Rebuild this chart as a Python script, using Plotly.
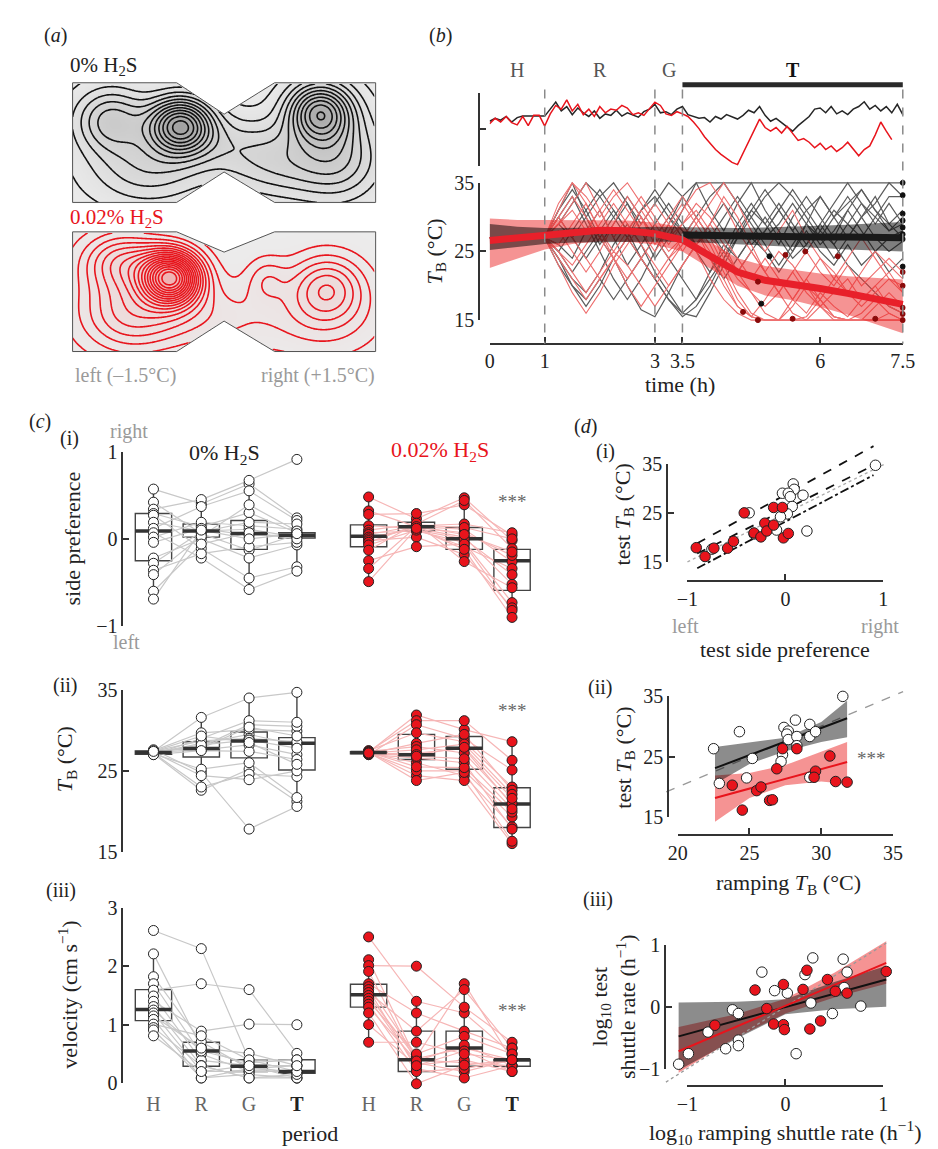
import numpy as np
import plotly.graph_objects as go

W, H = 938, 1149
SERIF = "'Liberation Serif', 'Times New Roman', Times, 'DejaVu Serif', serif"
RED = "#e8141c"
AXC = "#333333"

# ======================= DATA =======================
# (a) arena outline in arena units (x: left -1.5 .. right +1.5)
ARENA_X = [-1.5, -0.47, 0.0, 0.5, 1.5, 1.5, 0.5, 0.0, -0.47, -1.5, -1.5]
ARENA_TOP_Y = [0.59, 0.59, 0.28, 0.59, 0.59, -0.59, -0.59, -0.29, -0.59, -0.59, 0.59]
ARENA_BOT_Y = [0.59, 0.59, 0.39, 0.59, 0.59, -0.59, -0.59, -0.29, -0.59, -0.59, 0.59]
A0_CX = [-0.43, -1.12, 0.95, 1.15, -0.75, 0.55, 0.05]
A0_CY = [0.17, 0.22, 0.30, -0.15, -0.25, -0.20, 0.0]
A0_SX = [0.22, 0.25, 0.22, 0.30, 0.40, 0.40, 0.35]
A0_SY = [0.19, 0.22, 0.20, 0.30, 0.25, 0.25, 0.20]
A0_W = [1.0, 0.45, 0.85, 0.35, 0.30, 0.30, 0.15]
A2_CX = [-0.52, -1.0, -0.95, 1.02, 0.42, 1.0, -0.2]
A2_CY = [0.14, 0.30, -0.20, 0.05, 0.12, -0.25, -0.25]
A2_SX = [0.20, 0.28, 0.35, 0.25, 0.14, 0.40, 0.50]
A2_SY = [0.18, 0.20, 0.28, 0.22, 0.16, 0.28, 0.25]
A2_W = [1.4, 0.45, 0.40, 0.40, 0.18, 0.20, 0.20]

# (b) periods
PERIOD_NAMES = ["H", "R", "G", "T"]
PERIOD_EDGES = [0, 1, 3, 3.5, 7.5]
B_XTICKS = [0, 1, 3, 3.5, 6, 7.5]
B_XTICKTEXT = ["0", "1", "3", "3.5", "6", "7.5"]
# (b) upper example traces, sampled every 0.1 h from t = 0
B_TOP_BLACK = [0.22, 0.30, 0.25, 0.35, 0.20, 0.32, 0.36, 0.36, 0.36, 0.36,
               0.36, 0.55, 0.74, 0.50, 0.62, 0.40, 0.58, 0.45, 0.35, 0.50,
               0.30, 0.42, 0.38, 0.52, 0.36, 0.45, 0.40, 0.33, 0.48, 0.55,
               0.68, 0.45, 0.48, 0.40, 0.55, 0.62, 0.40, 0.36, 0.30, 0.32,
               0.20, 0.35, 0.28, 0.40, 0.33, 0.28, 0.38, 0.52, 0.45, 0.62,
               0.38, 0.22, 0.30, 0.18, 0.08, -0.05, 0.10, 0.22, 0.35, 0.55,
               0.58, 0.45, 0.62, 0.42, 0.50, 0.40, 0.55, 0.62, 0.75, 0.55,
               0.65, 0.50, 0.62, 0.45, 0.68, 0.40]
B_TOP_RED = [0.15, 0.30, 0.20, 0.35, 0.18, 0.12, 0.35, 0.10, 0.38, 0.38,
             0.09, 0.42, 0.65, 0.55, 0.80, 0.50, 0.68, 0.40, 0.55, 0.35,
             0.62, 0.45, 0.55, 0.52, 0.65, 0.58, 0.40, 0.45, 0.38, 0.55,
             0.74, 0.65, 0.42, 0.38, 0.48, 0.42, 0.35, 0.20, 0.02, -0.20,
             -0.38, -0.55, -0.68, -0.80, -0.90, -0.96, -0.65, -0.35, 0.0, 0.28,
             0.05, -0.05, 0.05, -0.10, 0.08, -0.12, -0.30, -0.25, -0.35, -0.50,
             -0.38, -0.55, -0.45, -0.60, -0.50, -0.35, -0.55, -0.72, -0.55, -0.45,
             -0.15, 0.20, -0.05, -0.28]
B_TOP_STEP = 0.1
# (b) individual body-temperature traces: 27 degC during H, then every 0.25 h from t = 1
B_IND_START = 1.0
B_IND_STEP = 0.25
B_GRAY = [
    [27, 31, 35, 30, 26, 29, 32, 28, 24, 27, 31, 35, 35, 35, 35, 35, 35, 35, 35, 35, 35, 35, 35, 35, 35, 35, 35],
    [27, 24, 21, 19, 22, 26, 29, 26, 22, 19, 16, 15.5, 19, 23, 27, 31, 29, 26, 30, 33, 30, 27, 31, 34, 31, 28, 30],
    [27, 30, 33, 29, 25, 21, 18, 21, 25, 29, 33, 35, 31, 28, 32, 35, 31, 28, 25, 29, 33, 30, 27, 30, 33, 29, 27],
    [27, 25, 22, 25, 28, 31, 28, 24, 21, 18, 16, 18, 22, 26, 24, 27, 30, 27, 24, 26, 29, 26, 23, 21, 19, 17, 16],
    [27, 29, 27, 24, 27, 30, 33, 30, 27, 30, 28, 26, 29, 32, 29, 26, 28, 31, 34, 31, 28, 31, 29, 32, 30, 33, 33],
    [27, 23, 20, 17, 20, 24, 20, 16.5, 15.5, 19, 23, 26, 28, 25, 22, 25, 28, 31, 28, 25, 28, 26, 29, 27, 30, 28, 29],
    [27, 31, 34, 31, 27, 24, 27, 31, 34, 31, 28, 25, 22, 25, 29, 32, 29, 32, 29, 26, 29, 32, 35, 32, 29, 32, 29],
    [27, 26, 24, 28, 31, 27, 23, 26, 29, 32, 29, 26, 24, 21, 24, 27, 25, 22, 25, 28, 25, 23, 26, 23, 25, 22, 24],
    [27, 29, 32, 35, 33, 30, 27, 24, 21, 18, 15.5, 17, 20, 24, 28, 31, 34, 31, 28, 31, 33, 30, 32, 34, 31, 29, 31],
    [27, 25, 28, 31, 34, 31, 28, 31, 33, 30, 27, 30, 33, 35, 32, 29, 26, 23, 26, 29, 27, 24, 27, 30, 27, 25, 26.5],
    [27, 24, 20, 18, 21, 18, 21, 24, 27, 24, 21, 18, 21, 24, 27, 30, 27, 29, 32, 29, 26, 28, 31, 28, 25, 27, 28],
    [27, 30, 27, 30, 33, 35, 32, 29, 32, 35, 33, 30, 27, 30, 33, 30, 33, 35, 33, 30, 27, 30, 33, 30, 32, 35, 33],
]
B_REDS = [
    [27, 31, 35, 32, 28, 25, 28, 31, 28, 25, 27, 25, 21, 18, 16, 15, 15, 15, 15, 15, 15, 15, 15, 15, 15, 15, 15],
    [27, 24, 21, 18, 21, 24, 27, 30, 27, 24, 26, 28, 24, 20, 17, 15.5, 18, 21, 18, 16, 19, 17, 15.5, 18, 20, 17, 16],
    [27, 29, 32, 35, 31, 27, 30, 33, 30, 27, 29, 31, 28, 24, 21, 19, 17, 19, 22, 19, 17, 19, 21, 18, 20, 22, 19],
    [27, 25, 23, 26, 29, 32, 29, 26, 23, 20, 23, 26, 29, 33, 30, 26, 22, 19, 16, 15, 15, 15, 15, 16, 18, 16, 15],
    [27, 30, 33, 30, 27, 24, 21, 24, 27, 30, 33, 30, 27, 25, 22, 25, 22, 19, 22, 25, 22, 20, 23, 20, 22, 24, 22],
    [27, 26, 29, 32, 28, 24, 20, 17, 20, 23, 26, 29, 26, 22, 18, 15.5, 15, 15, 17, 20, 17, 15.5, 15, 15, 17, 19, 17],
    [27, 28, 25, 22, 25, 29, 33, 30, 26, 29, 32, 29, 32, 35, 32, 28, 25, 28, 31, 27, 24, 21, 24, 27, 24, 21, 19],
    [27, 23, 19, 16, 19, 23, 26, 29, 32, 29, 25, 28, 25, 21, 17, 15.5, 15, 15, 15, 15.5, 18, 15.5, 15, 15, 15, 15, 15],
    [27, 30, 27, 24, 21, 24, 27, 24, 21, 24, 27, 30, 27, 23, 19, 16, 15, 15, 18, 21, 18, 15.5, 15, 15, 15, 15, 15],
    [27, 32, 35, 33, 30, 33, 35, 32, 29, 26, 29, 32, 30, 27, 24, 21, 24, 21, 18, 21, 24, 22, 19, 22, 25, 23, 21],
    [27, 25, 22, 19, 22, 25, 23, 20, 17, 20, 23, 26, 29, 26, 22, 19, 16, 15, 15, 15, 17, 15, 15, 15, 15, 16, 15],
    [27, 29, 31, 28, 31, 34, 31, 28, 25, 28, 31, 34, 35, 32, 28, 25, 22, 25, 23, 20, 18, 21, 19, 17, 19, 21, 20],
]
B_H_TEMP = 27
# (b) group means and confidence bands
B_MEAN_T = [0, 0.5, 1, 1.5, 2, 2.5, 3, 3.5, 4, 4.5, 5, 5.5, 6, 6.5, 7, 7.5]
B_BLACK_MEAN = [27.2, 27.2, 27.3, 27.4, 27.5, 27.5, 27.5, 27.4, 27.3, 27.2, 27.2, 27.1, 27.1, 27.1, 27.0, 27.0]
B_BLACK_LO = [25.2, 25.7, 26.1, 26.3, 26.4, 26.4, 26.4, 26.4, 26.3, 26.1, 25.9, 25.7, 25.5, 25.3, 25.1, 25.0]
B_BLACK_HI = [29.0, 28.6, 28.4, 28.4, 28.5, 28.5, 28.6, 28.5, 28.4, 28.4, 28.5, 28.6, 28.7, 28.9, 29.1, 29.3]
B_RED_MEAN = [26.6, 27.0, 27.5, 27.9, 28.1, 28.0, 27.6, 26.7, 24.3, 22.0, 20.8, 20.3, 19.6, 18.9, 18.2, 17.3]
B_RED_LO = [22.6, 24.0, 25.3, 26.1, 26.5, 26.4, 26.0, 25.0, 22.5, 20.0, 18.6, 17.9, 16.9, 15.8, 14.5, 13.1]
B_RED_HI = [29.8, 29.6, 29.6, 29.6, 29.6, 29.5, 29.2, 28.5, 26.4, 24.0, 22.9, 22.3, 21.8, 21.4, 21.1, 20.9]
# (b) end-of-tracking points
B_DOT_BLACK_T = [7.5, 7.5, 7.5, 7.5, 7.5, 7.5, 7.5, 7.5, 5.08, 4.93]
B_DOT_BLACK_Y = [35.0, 33.2, 30.5, 29.5, 28.5, 27.5, 26.8, 22.8, 24.3, 17.4]
B_DOT_RED_T = [7.5, 7.5, 7.5, 7.5, 7.5, 5.37, 5.73, 6.32, 4.6, 4.87, 5.5, 7.0, 4.87]
B_DOT_RED_Y = [22.0, 20.0, 16.8, 15.9, 15.0, 24.5, 25.0, 24.3, 16.2, 15.0, 15.2, 15.2, 20.6]

# (c) per-individual values, periods H, R, G, T
SP0 = [[0.57, 0.42, 0.34, 0.29, 0.27, 0.19, 0.12, 0.07, 0.02, -0.04, -0.22, -0.28, -0.36, -0.41, -0.60, -0.69],
       [0.40, 0.06, 0.45, 0.14, -0.11, 0.09, 0.37, -0.22, 0.19, 0.12, 0.0, 0.08, -0.17, 0.03, -0.06, 0.10],
       [0.63, -0.13, 0.67, 0.30, -0.45, 0.11, 0.55, -0.58, 0.15, 0.04, -0.22, 0.19, -0.09, 0.39, 0.07, 0.0],
       [0.24, 0.05, 0.91, 0.07, -0.32, 0.02, 0.21, -0.37, 0.11, 0.04, -0.07, 0.17, -0.04, 0.09, 0.0, 0.06]]
SP2 = [[0.48, 0.32, 0.28, 0.15, 0.10, 0.07, 0.05, 0.02, 0.0, -0.02, -0.04, -0.07, -0.13, -0.25, -0.34, -0.49],
       [0.23, 0.14, 0.29, 0.12, 0.17, 0.09, 0.15, 0.11, 0.13, 0.02, 0.16, 0.10, 0.18, -0.09, 0.14, 0.12],
       [0.47, 0.11, 0.39, 0.02, 0.44, -0.04, 0.17, -0.09, 0.07, -0.18, 0.13, 0.0, -0.26, -0.06, 0.05, -0.12],
       [-0.02, -0.26, 0.04, -0.52, -0.11, -0.73, 0.07, -0.34, -0.19, -0.79, 0.0, -0.41, -0.56, -0.82, -0.15, -0.90]]
TB0 = [[27.4, 27.2, 27.5, 27.1, 27.3, 27.6, 27.0, 27.3, 27.2, 27.4, 27.1, 27.5, 27.3, 27.2, 27.0, 27.4],
       [31.6, 28.4, 29.7, 22.6, 28.0, 24.8, 29.0, 27.6, 23.0, 28.7, 25.2, 27.8, 24.4, 28.2, 27.5, 29.3],
       [34.0, 29.5, 30.1, 25.2, 30.7, 17.8, 31.2, 28.2, 24.6, 29.0, 26.0, 30.4, 23.9, 28.8, 27.4, 28.5],
       [34.7, 28.2, 29.9, 21.2, 30.5, 20.6, 31.0, 27.0, 24.3, 28.6, 21.7, 29.3, 25.0, 27.8, 26.4, 25.8]]
TB2 = [[27.3, 27.1, 27.4, 27.2, 27.0, 27.3, 27.5, 27.2, 27.1, 27.3, 27.4, 27.0, 27.2, 27.3, 27.1, 27.2],
       [31.9, 27.2, 31.2, 26.0, 30.7, 24.4, 29.7, 25.0, 28.4, 23.8, 28.0, 26.6, 27.6, 25.5, 27.0, 26.8],
       [30.1, 27.75, 31.2, 24.4, 29.0, 23.8, 28.6, 25.0, 29.5, 24.8, 27.2, 26.0, 28.3, 25.4, 27.9, 26.5],
       [28.6, 20.8, 26.3, 18.1, 25.1, 16.0, 23.0, 19.3, 22.6, 16.3, 21.0, 17.8, 22.1, 19.9, 21.6, 20.3]]
V0 = [[2.61, 2.21, 1.82, 1.70, 1.59, 1.49, 1.40, 1.31, 1.25, 1.20, 1.15, 1.09, 1.01, 0.95, 0.91, 0.81],
      [2.30, 0.61, 0.71, 0.50, 1.70, 0.39, 0.89, 0.30, 0.55, 0.20, 0.60, 0.09, 0.81, 0.30, 0.09, 0.20],
      [0.40, 0.30, 0.25, 0.20, 1.60, 0.30, 1.01, 0.09, 0.35, 0.20, 0.51, 0.15, 0.40, 0.09, 0.25, 0.30],
      [0.20, 0.09, 0.30, 0.20, 0.51, 0.15, 1.00, 0.09, 0.40, 0.20, 0.30, 0.09, 0.40, 0.15, 0.20, 0.30]]
V2 = [[2.50, 2.11, 2.01, 1.91, 1.70, 1.65, 1.60, 1.55, 1.50, 1.45, 1.40, 1.35, 1.30, 1.20, 1.00, 0.70],
      [1.40, 0.40, 2.00, 0.35, 1.20, 0.45, 0.25, 0.89, 0.42, 0.31, 0.50, 0.20, 0.38, -0.01, 0.30, 0.70],
      [1.20, 0.35, 1.30, 0.20, 0.89, 1.70, 0.09, 1.60, 0.60, 0.40, 0.80, 0.25, 0.65, 0.31, 0.55, 0.50],
      [0.50, 0.30, 0.70, 0.40, 0.60, 0.40, 0.30, 0.60, 0.40, 0.20, 0.50, 0.40, 0.30, 0.40, 0.20, 0.40]]
# (c) box statistics (q1, median, q3, lower whisker, upper whisker) per period
SP0_BOX = ([-0.25, 0.02, -0.12, 0.01], [0.09, 0.09, 0.06, 0.04], [0.29, 0.17, 0.21, 0.07], [-0.69, -0.22, -0.58, -0.37], [0.57, 0.45, 0.67, 0.24])
SP2_BOX = ([-0.09, 0.09, -0.12, -0.59], [0.03, 0.14, 0.0, -0.25], [0.16, 0.19, 0.13, -0.12], [-0.49, -0.09, -0.26, -0.90], [0.48, 0.29, 0.47, 0.07])
TB0_BOX = ([27.05, 26.7, 26.6, 25.1], [27.25, 27.75, 28.7, 28.4], [27.45, 28.6, 29.8, 29.1], [27.0, 22.6, 23.9, 20.6], [27.6, 31.6, 34.0, 34.7])
TB2_BOX = ([27.1, 26.4, 25.2, 18.0], [27.25, 27.0, 27.8, 20.9], [27.35, 29.5, 29.25, 22.9], [27.0, 23.8, 23.8, 16.0], [27.5, 31.9, 31.2, 28.6])
V0_BOX = ([1.07, 0.29, 0.20, 0.17], [1.26, 0.55, 0.29, 0.20], [1.60, 0.70, 0.40, 0.40], [0.81, 0.09, 0.09, 0.09], [2.21, 0.89, 0.51, 0.51])
V2_BOX = ([1.30, 0.20, 0.29, 0.29], [1.51, 0.40, 0.60, 0.40], [1.69, 0.89, 0.89, 0.40], [0.70, -0.01, 0.09, 0.20], [2.11, 1.40, 1.70, 0.70])
C_STARS = (0.43, 32.4, 1.24)

# (d)(i)
D1_WHITE_X = [0.92, 0.08, -0.03, 0.09, 0.03, 0.05, 0.18, 0.07, 0.02, -0.05, -0.37, -0.09, 0.22, -0.32, -0.75]
D1_WHITE_Y = [34.8, 31.0, 29.1, 29.9, 29.1, 28.4, 28.7, 26.4, 24.9, 24.3, 25.1, 21.6, 21.4, 20.8, 17.7]
D1_RED_X = [-0.91, -0.82, -0.73, -0.59, -0.53, -0.42, -0.32, -0.25, -0.21, -0.19, -0.12, -0.12, -0.03, -0.02, 0.03]
D1_RED_Y = [18.0, 16.2, 17.9, 17.9, 19.3, 25.1, 21.0, 20.2, 23.0, 21.4, 22.6, 26.2, 26.2, 20.0, 20.9]
D1_FIT_X = [-0.9, 0.9]
D1_FIT_A = [18.9, 38.7]
D1_FIT_B = [16.8, 34.8]
D1_FIT_C = [13.8, 32.8]
D1_REF_X = [-1.0, 1.02]
D1_REF_Y = [15.1, 35.1]
# (d)(ii)
D2_WHITE_X = [22.5, 22.9, 24.3, 25.2, 24.8, 27.4, 27.7, 27.6, 27.7, 27.3, 27.2, 28.2, 28.3, 29.2, 29.2, 29.6, 29.2, 31.5, 28.3]
D2_WHITE_Y = [26.3, 20.6, 29.1, 24.7, 21.5, 29.8, 29.2, 28.7, 27.8, 25.3, 24.2, 31.0, 28.3, 30.3, 28.3, 29.1, 21.6, 34.9, 26.8]
D2_RED_X = [23.8, 24.5, 25.5, 25.8, 26.4, 26.6, 26.9, 27.3, 28.3, 29.6, 29.5, 30.6, 31.0, 31.8]
D2_RED_Y = [20.3, 16.2, 19.4, 20.0, 17.8, 17.9, 23.0, 26.3, 26.3, 22.6, 21.6, 25.1, 20.9, 20.8]
D2_FIT_X = [22.6, 31.8]
D2_BLACK_FIT = [23.1, 31.3]
D2_RED_FIT = [18.2, 24.1]
D2_BAND_X = [22.6, 25.0, 27.5, 30.0, 31.8]
D2_BLACK_HI = [26.6, 27.3, 28.1, 30.7, 34.2]
D2_BLACK_LO = [20.5, 23.8, 25.9, 27.4, 28.2]
D2_RED_HI = [21.9, 22.3, 23.6, 25.8, 27.4]
D2_RED_LO = [14.3, 18.2, 20.3, 20.9, 20.5]
D2_REF = [19.2, 35.7]
D2_STARS = (33.5, 24.7)
# (d)(iii)
D3_WHITE_X = [-1.09, -0.99, -0.79, -0.61, -0.54, -0.48, -0.48, -0.48, -0.24, -0.11, 0.02, 0.11, 0.20, 0.26, 0.28, 0.48, 0.59, 0.60, 0.63, 0.77]
D3_WHITE_Y = [-0.93, -0.76, -0.41, -0.68, -0.05, -0.11, -0.54, -0.63, 0.56, 0.26, 0.22, -0.76, 0.52, 0.06, 0.79, -0.11, 0.77, 0.31, 0.56, 0.01]
D3_RED_X = [-0.72, -0.31, -0.19, -0.12, -0.02, -0.02, -0.01, 0.18, 0.22, 0.25, 0.36, 0.43, 0.51, 0.63, 1.03]
D3_RED_Y = [-0.30, 0.27, -0.03, -0.28, 0.36, -0.29, -0.37, 0.28, 0.59, -0.36, -0.23, 0.44, 0.25, 0.22, 0.57]
D3_FIT_X = [-1.09, 1.03]
D3_BLACK_FIT = [-0.48, 0.44]
D3_RED_FIT = [-0.72, 0.71]
D3_BAND_X = [-1.09, -0.5, 0.0, 0.5, 1.03]
D3_BLACK_HI = [0.07, 0.08, 0.12, 0.40, 0.66]
D3_BLACK_LO = [-1.03, -0.52, -0.12, -0.04, 0.0]
D3_RED_HI = [-0.33, -0.12, 0.13, 0.55, 1.06]
D3_RED_LO = [-1.07, -0.50, -0.11, 0.15, 0.37]
D3_REF = [-1.22, 1.03]

# ======================= FIGURE =======================
fig = go.Figure()
layout = {}
annotations = []
shapes = []
_n = [0]


def lin(v, v0, p0, v1, p1):
    return p0 + (v - v0) * (p1 - p0) / (v1 - v0)


def axes(xr, yr, xcal, ycal, xo=None, yo=None):
    _n[0] += 1
    n = _n[0]
    s = "" if n == 1 else str(n)
    a, b = sorted([lin(xr[0], *xcal), lin(xr[1], *xcal)])
    c, d = sorted([lin(yr[0], *ycal), lin(yr[1], *ycal)])
    xa = dict(domain=[a / W, b / W], range=list(xr), visible=False, anchor="y" + s,
              fixedrange=True, showgrid=False, zeroline=False)
    ya = dict(domain=[1 - d / H, 1 - c / H], range=list(yr), visible=False, anchor="x" + s,
              fixedrange=True, showgrid=False, zeroline=False)
    if xo:
        xa.update(xo)
    if yo:
        ya.update(yo)
    layout["xaxis" + s] = xa
    layout["yaxis" + s] = ya
    fig.add_trace(go.Scatter(x=[None], y=[None], xaxis="x" + s, yaxis="y" + s,
                             showlegend=False, hoverinfo="skip"))
    return "x" + s, "y" + s


TICKFONT = dict(family=SERIF, size=20, color="#222")


def yframe(pos_px, vals, text=None, labels=True):
    return dict(visible=True, anchor="free", position=pos_px / W, side="left", showline=True,
                linecolor=AXC, linewidth=1.5, ticks="inside", ticklen=6, tickwidth=1.5,
                tickcolor=AXC, tickmode="array", tickvals=vals,
                ticktext=text if text else [str(v) for v in vals],
                showticklabels=labels, tickfont=TICKFONT)


def xframe(pos_px, vals, text=None):
    return dict(visible=True, anchor="free", position=1 - pos_px / H, side="bottom", showline=True,
                linecolor=AXC, linewidth=1.5, ticks="inside", ticklen=6, tickwidth=1.5,
                tickcolor=AXC, tickmode="array", tickvals=vals,
                ticktext=text if text else [str(v) for v in vals], tickfont=TICKFONT)


def ann(text, x, y, size=20, color="#222", xanchor="center", yanchor="middle", angle=0,
        xref="paper", yref="paper"):
    if xref == "paper":
        x = x / W
    if yref == "paper":
        y = 1 - y / H
    annotations.append(dict(text=text, x=x, y=y, xref=xref, yref=yref, showarrow=False,
                            font=dict(family=SERIF, size=size, color=color),
                            xanchor=xanchor, yanchor=yanchor, textangle=angle))


def add(tr, ax):
    tr.update(xaxis=ax[0], yaxis=ax[1], showlegend=False, hoverinfo="skip")
    fig.add_trace(tr)


def line(ax, x, y, color, width=1.5, dash="solid", opacity=1.0):
    add(go.Scatter(x=x, y=y, mode="lines", line=dict(color=color, width=width, dash=dash),
                   opacity=opacity), ax)


def band(ax, x, lo, hi, fill):
    add(go.Scatter(x=list(x) + list(x)[::-1], y=list(hi) + list(lo)[::-1], mode="lines",
                   fill="toself", fillcolor=fill, line=dict(width=0)), ax)


def dots(ax, x, y, fill, size=10.5, lc="#222"):
    add(go.Scatter(x=x, y=y, mode="markers",
                   marker=dict(size=size, color=fill, line=dict(color=lc, width=1))), ax)


# ---------------- (a) arenas ----------------
gx = np.linspace(-1.5, 1.5, 241)
gy = np.linspace(-0.59, 0.59, 95)
GX, GY = np.meshgrid(gx, gy)


def inside(px, py, vx, vy):
    res = np.zeros(px.shape, dtype=bool)
    j = len(vx) - 1
    for i in range(len(vx)):
        xi, yi, xj, yj = vx[i], vy[i], vx[j], vy[j]
        if yi != yj:
            cond = ((yi > py) != (yj > py)) & (px < (xj - xi) * (py - yi) / (yj - yi) + xi)
            res ^= cond
        j = i
    return res


def mixture(cx, cy, sx, sy, w):
    z = np.zeros_like(GX)
    for a, b, c, d, e in zip(cx, cy, sx, sy, w):
        z += e * np.exp(-0.5 * (((GX - a) / c) ** 2 + ((GY - b) / d) ** 2))
    return z


def arena(ytop_px, ay, comps, line_col, tint, nlev):
    ax = axes([-1.53, 1.53], [-0.62, 0.62], (-1.5, 55, 1.5, 366), (0.59, ytop_px, -0.59, ytop_px + 122))
    z = mixture(*comps)
    z = np.where(inside(GX, GY, ARENA_X, ay), z, np.nan)
    zmax = float(np.nanmax(z))
    add(go.Heatmap(x=gx, y=gy, z=z, zmin=0, zmax=zmax, showscale=False,
                   colorscale=[[0, "#ececec"], [1, tint]]), ax)
    step = zmax * 0.9 / nlev
    add(go.Contour(x=gx, y=gy, z=z, showscale=False,
                   contours=dict(coloring="none", start=zmax * 0.05, end=zmax * 0.97, size=step),
                   line=dict(color=line_col, width=1.6, smoothing=1.0)), ax)
    line(ax, ARENA_X, ay, "#555555", 1.0)


arena(65, ARENA_TOP_Y, (A0_CX, A0_CY, A0_SX, A0_SY, A0_W), "#111111", "#a2a2a2", 11)
arena(217, ARENA_BOT_Y, (A2_CX, A2_CY, A2_SX, A2_SY, A2_W), RED, "#efb3b3", 17)

ann("(<i>a</i>)", 37, 17)
ann("0% H<sub>2</sub>S", 50, 48, size=21, xanchor="left")
ann("0.02% H<sub>2</sub>S", 50, 203, size=21, color=RED, xanchor="left")
ann("left (–1.5°C)", 55, 363, color="#9a9a9a", xanchor="left")
ann("right (+1.5°C)", 367, 363, color="#9a9a9a", xanchor="right")

# ---------------- (b) time course ----------------
BXCAL = (0, 483, 7.5, 907)
bt = axes([0, 7.55], [-1.08, 1.08], BXCAL, (1, 75, -1, 150))
bb = axes([0, 7.55], [12.0, 36.5], BXCAL, (35, 167, 15, 307))
axes([0, 1], [-1, 1], (0, 472, 1, 476), (1, 75, -1, 150), yo=yframe(472, [-1, 0, 1], labels=False))
axes([0, 7.5], [15, 35], BXCAL, (35, 167, 15, 307),
     xo=xframe(331, B_XTICKS, B_XTICKTEXT), yo=yframe(472, [15, 25, 35]))

top_t_black = [round(i * B_TOP_STEP, 2) for i in range(len(B_TOP_BLACK))]
top_t_red = [round(i * B_TOP_STEP, 2) for i in range(len(B_TOP_RED))]
line(bt, top_t_black, B_TOP_BLACK, "#262626", 1.5)
line(bt, top_t_red, B_TOP_RED, RED, 1.5)

for series, col, wdt in [(B_GRAY, "#5c5c5c", 1.2), (B_REDS, "#ee6f6f", 1.1)]:
    for vals in series:
        tt = [0] + [B_IND_START + i * B_IND_STEP for i in range(len(vals))]
        yy = [B_H_TEMP] + vals
        line(bb, tt, yy, col, wdt)

band(bb, B_MEAN_T, B_RED_LO, B_RED_HI, "rgba(235,40,40,0.5)")
band(bb, B_MEAN_T, B_BLACK_LO, B_BLACK_HI, "rgba(0,0,0,0.5)")
t_start = PERIOD_EDGES[3]
bm_t = [t for t in B_MEAN_T if t >= t_start]
bm_y = [v for t, v in zip(B_MEAN_T, B_BLACK_MEAN) if t >= t_start]
line(bb, bm_t, bm_y, "#1a1a1a", 7)
line(bb, B_MEAN_T, B_RED_MEAN, "#e8202a", 7)
dots(bb, B_DOT_BLACK_T, B_DOT_BLACK_Y, "#111111", size=5, lc="#111111")
dots(bb, B_DOT_RED_T, B_DOT_RED_Y, "#8b0a0a", size=5, lc="#8b0a0a")

for e in PERIOD_EDGES[1:]:
    shapes.append(dict(type="line", xref=bt[0], yref="paper", x0=e, x1=e,
                       y0=1 - 72 / H, y1=1 - 331 / H,
                       line=dict(color="#8a8a8a", width=1.5, dash="dash")))
shapes.append(dict(type="line", xref=bt[0], yref="paper", x0=PERIOD_EDGES[3], x1=PERIOD_EDGES[4],
                   y0=1 - 67 / H, y1=1 - 67 / H, line=dict(color="#2a2a2a", width=5)))
for k, name in enumerate(PERIOD_NAMES):
    mid = (PERIOD_EDGES[k] + PERIOD_EDGES[k + 1]) / 2
    txt = "<b>%s</b>" % name if name == "T" else name
    annotations.append(dict(text=txt, x=mid, y=1 - 52 / H, xref=bt[0], yref="paper", showarrow=False,
                            font=dict(family=SERIF, size=20, color="#111" if name == "T" else "#555"),
                            xanchor="center", yanchor="middle"))

ann("(<i>b</i>)", 433, 17)
ann("<i>T</i><sub>B</sub> (°C)", 428, 237, size=22, angle=-90)
ann("time (h)", 678, 373, size=22)

# ---------------- (c) paired box plots ----------------
CXCAL = (1, 138, 8.5, 506)
GROUP_OFFSET = 4.5
tick_pos = [k + 1 for k in range(4)] + [k + 1 + GROUP_OFFSET for k in range(4)]
tick_txt = ['<span style="color:#666">%s</span>' % p if p != "T" else "<b>T</b>" for p in PERIOD_NAMES] * 2


def c_group(ax, vals, stats, fill, conn, offset):
    pos = [k + 1 + offset for k in range(4)]
    cx, cy = [], []
    for i in range(len(vals[0])):
        cx += pos + [None]
        cy += [v[i] for v in vals] + [None]
    line(ax, cx, cy, conn, 1.2)
    q1, med, q3, lo, hi = stats
    add(go.Box(x=pos, q1=q1, median=med, q3=q3, lowerfence=lo, upperfence=hi, width=0.76,
               whiskerwidth=0, boxpoints=False, fillcolor="rgba(0,0,0,0)",
               line=dict(color="#444444", width=1.4)), ax)
    mx, my = [], []
    for p, m in zip(pos, med):
        mx += [p - 0.38, p + 0.38, None]
        my += [m, m, None]
    line(ax, mx, my, "#333333", 3.5)
    px, py = [], []
    for p, v in zip(pos, vals):
        px += [p] * len(v)
        py += v
    dots(ax, px, py, fill, size=10)


rows = [
    (SP0, SP2, SP0_BOX, SP2_BOX, [-1.06, 1.06], (1, 441, -1, 619), [-1, 0, 1], ["−1", "0", "1"]),
    (TB0, TB2, TB0_BOX, TB2_BOX, [14.5, 36.0], (35, 684, 15, 849), [15, 25, 35], None),
    (V0, V2, V0_BOX, V2_BOX, [-0.12, 3.0], (3, 906, 0, 1085), [0, 1, 2, 3], None),
]
for r, (g0, g2, s0, s2, yr, ycal, yt, ytt) in enumerate(rows):
    xo = None
    if r == 2:
        xo = dict(visible=True, showline=False, ticks="", tickmode="array", tickvals=tick_pos,
                  ticktext=tick_txt, tickfont=dict(family=SERIF, size=20, color="#222"))
    ax = axes([0.5, 9.0], yr, CXCAL, ycal, xo=xo)
    c_group(ax, g0, s0, "white", "#c8c8c8", 0)
    c_group(ax, g2, s2, RED, "#f6b6b6", GROUP_OFFSET)
    fy = [ycal[0], ycal[2]]
    axes([0, 1], sorted(fy), (0, 106, 1, 110), ycal, yo=yframe(106, yt, ytt))
    annotations.append(dict(text="***", x=4 + GROUP_OFFSET, y=C_STARS[r], xref=ax[0], yref=ax[1],
                            showarrow=False, font=dict(family=SERIF, size=19, color="#666"),
                            xanchor="center", yanchor="middle"))

ann("(<i>c</i>)", 22, 410)
ann("(i)", 52, 428)
ann("right", 113, 421, color="#9a9a9a")
ann("left", 110, 635, color="#9a9a9a")
ann("0% H<sub>2</sub>S", 211, 443, size=22)
ann("0.02% H<sub>2</sub>S", 432, 440, size=22, color=RED)
ann("side preference", 55, 530, size=22, angle=-90)
ann("(ii)", 47, 680)
ann("<i>T</i><sub>B</sub> (°C)", 48, 755, size=22, angle=-90)
ann("(iii)", 43, 889)
ann("velocity (cm s<sup>−1</sup>)", 50, 995, size=22, angle=-90)
ann("period", 299, 1136, size=22)

# ---------------- (d)(i) ----------------
d1 = axes([-1.12, 1.12], [13, 39.5], (-1, 686, 1, 887), (35, 454, 15, 554))
axes([-1, 1], [15, 35], (-1, 686, 1, 887), (35, 454, 15, 554),
     xo=xframe(573, [-1, 0, 1], ["−1", "0", "1"]), yo=yframe(665, [15, 25, 35]))
line(d1, D1_REF_X, D1_REF_Y, "#aaaaaa", 1.3, "dot")
line(d1, D1_FIT_X, D1_FIT_A, "#111111", 1.8, "dash")
line(d1, D1_FIT_X, D1_FIT_B, "#111111", 1.8, "dash")
line(d1, D1_FIT_X, D1_FIT_C, "#111111", 1.8, "dashdot")
dots(d1, D1_WHITE_X, D1_WHITE_Y, "white")
dots(d1, D1_RED_X, D1_RED_Y, RED)

ann("(<i>d</i>)", 581, 415)
ann("(i)", 602, 441)
ann("test <i>T</i><sub>B</sub> (°C)", 621, 505, size=22, angle=-90)
ann("left", 684, 619, color="#9a9a9a")
ann("right", 884, 619, color="#9a9a9a")
ann("test side preference", 786, 643, size=22)

# ---------------- (d)(ii) ----------------
d2 = axes([19, 36], [13.5, 37], (20, 676, 35, 897), (35, 690, 15, 814))
axes([20, 35], [15, 35], (20, 676, 35, 897), (35, 690, 15, 814),
     xo=xframe(832, [20, 25, 30, 35]), yo=yframe(666, [15, 25, 35]))
line(d2, D2_REF, D2_REF, "#999999", 1.3, "dash")
band(d2, D2_BAND_X, D2_RED_LO, D2_RED_HI, "rgba(235,40,40,0.5)")
band(d2, D2_BAND_X, D2_BLACK_LO, D2_BLACK_HI, "rgba(0,0,0,0.45)")
line(d2, D2_FIT_X, D2_RED_FIT, RED, 2)
line(d2, D2_FIT_X, D2_BLACK_FIT, "#111111", 2)
dots(d2, D2_WHITE_X, D2_WHITE_Y, "white")
dots(d2, D2_RED_X, D2_RED_Y, RED)
annotations.append(dict(text="***", x=D2_STARS[0], y=D2_STARS[1], xref=d2[0], yref=d2[1],
                        showarrow=False, font=dict(family=SERIF, size=19, color="#666"),
                        xanchor="center", yanchor="middle"))
ann("(ii)", 596, 682)
ann("test <i>T</i><sub>B</sub> (°C)", 621, 753, size=22, angle=-90)
ann("ramping <i>T</i><sub>B</sub> (°C)", 790, 882, size=22)

# ---------------- (d)(iii) ----------------
d3 = axes([-1.25, 1.12], [-1.25, 1.12], (-1, 686, 1, 887), (1, 944, -1, 1070))
axes([-1, 1], [-1, 1], (-1, 686, 1, 887), (1, 944, -1, 1070),
     xo=xframe(1088, [-1, 0, 1], ["−1", "0", "1"]), yo=yframe(663, [-1, 0, 1], ["−1", "0", "1"]))
band(d3, D3_BAND_X, D3_RED_LO, D3_RED_HI, "rgba(235,40,40,0.5)")
band(d3, D3_BAND_X, D3_BLACK_LO, D3_BLACK_HI, "rgba(0,0,0,0.45)")
line(d3, D3_REF, D3_REF, "#999999", 1.3, "dot")
line(d3, D3_FIT_X, D3_BLACK_FIT, "#111111", 2)
line(d3, D3_FIT_X, D3_RED_FIT, RED, 2)
dots(d3, D3_WHITE_X, D3_WHITE_Y, "white")
dots(d3, D3_RED_X, D3_RED_Y, RED)
ann("(iii)", 594, 898)
ann("log<sub>10</sub> test<br>shuttle rate (h<sup>−1</sup>)", 610, 1007, size=22, angle=-90)
ann("log<sub>10</sub> ramping shuttle rate (h<sup>−1</sup>)", 787, 1135, size=22)

fig.update_layout(width=W, height=H, margin=dict(l=0, r=0, t=0, b=0, pad=0),
                  paper_bgcolor="white", plot_bgcolor="rgba(0,0,0,0)", showlegend=False,
                  font=dict(family=SERIF, size=20, color="#222"),
                  annotations=annotations, shapes=shapes, boxmode="overlay", **layout)
fig.write_html("out.html")
